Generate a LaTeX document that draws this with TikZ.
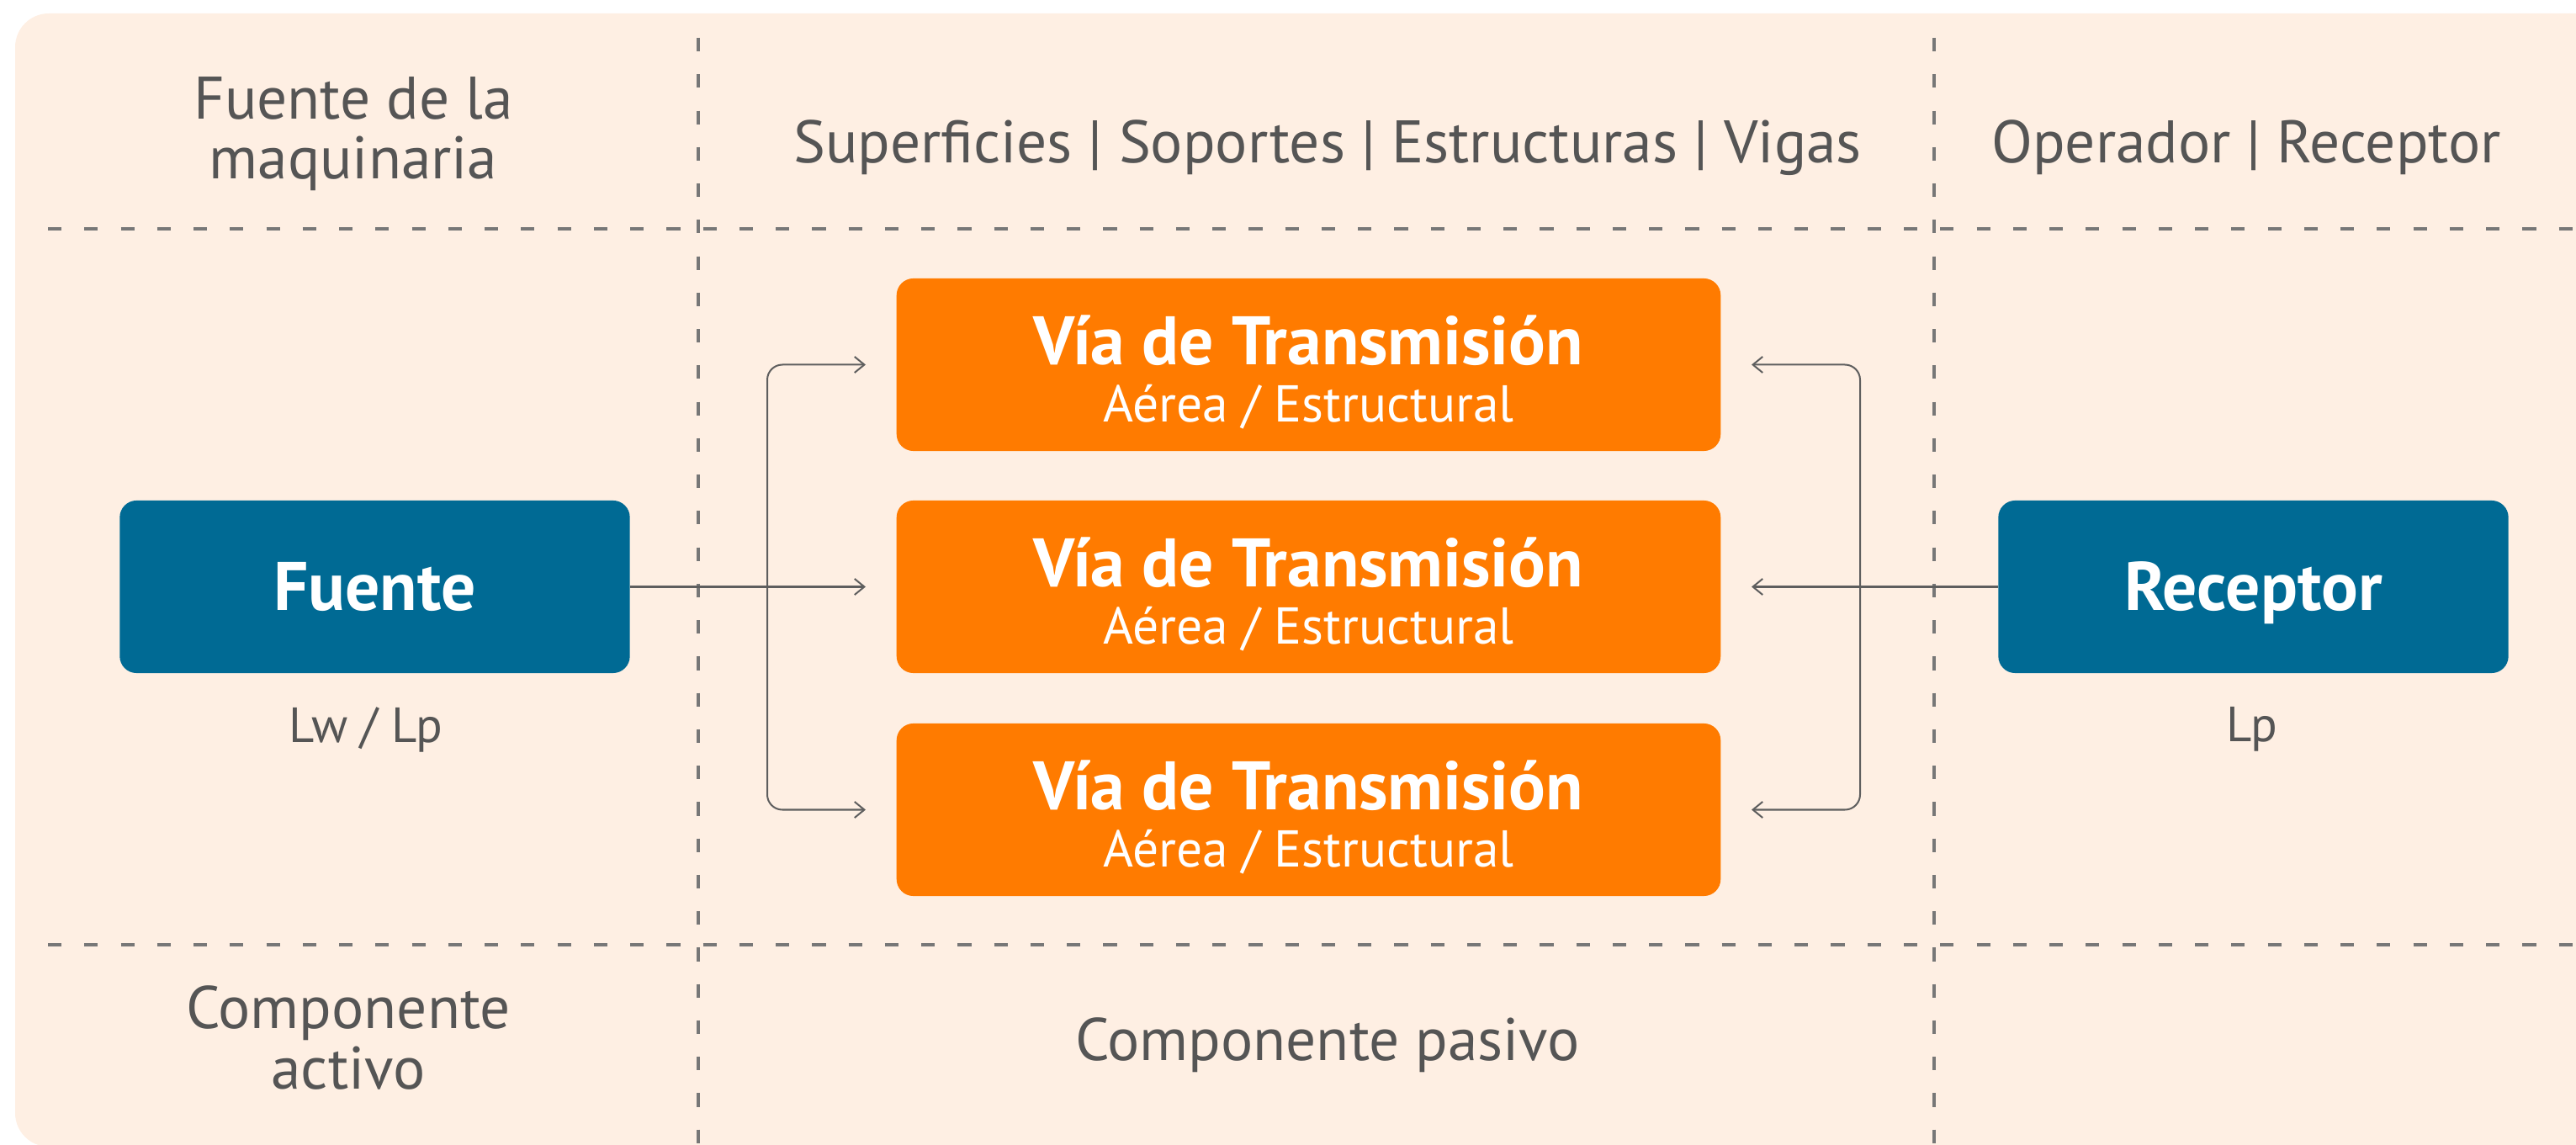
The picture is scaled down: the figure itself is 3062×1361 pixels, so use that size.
\documentclass[tikz,border=0pt]{standalone}
\usepackage{fontspec}
\setmainfont{PT Sans}
\usetikzlibrary{arrows.meta}

\definecolor{bgpeach}{HTML}{FEEFE3}
\definecolor{boxorange}{HTML}{FF7B00}
\definecolor{boxblue}{HTML}{006A94}
\definecolor{txtgray}{HTML}{555555}
\definecolor{linegray}{HTML}{5E5E5E}
\definecolor{dashgray}{HTML}{777777}

\begin{document}
\begin{tikzpicture}[x=0.01cm, y=-0.01cm]
    \useasboundingbox (0,0) rectangle (3062,1361);
    \fill[bgpeach, rounded corners=0.4cm] (18,16) rectangle (3120,1363);

    \begin{scope}[dashgray, line width=0.95pt, dash pattern=on 4.6pt off 7.7pt]
        \draw (57,272) -- (3062,272);
        \draw (57,1123) -- (3062,1123);
        \draw (830,45) -- (830,1361);
        \draw (2299,45) -- (2299,1361);
    \end{scope}

    \begin{scope}[every node/.style={text=txtgray, align=center, anchor=base, font=\fontsize{20.3}{20.2}\selectfont}]
        \node (hsrc) at (420,213) {Fuente de la\\maquinaria};
        \node (hpath) at (1578,194) {Superficies | Soportes | Estructuras | Vigas};
        \node (hrec) at (2670,194) {Operador | Receptor};
        \node (act) at (414,1294) {Componente\\activo};
        \node (pas) at (1578,1260) {Componente pasivo};
    \end{scope}

    \begin{scope}[every node/.style={text=white, rounded corners=0.2cm, minimum height=2.05cm, inner sep=0pt}]
        \node[fill=boxblue, minimum width=6.06cm, text height=16.2pt, text depth=0pt, font=\fontsize{23.2}{24}\selectfont\bfseries] (src) at (445.5,697.5) {Fuente};
        \node[fill=boxblue, minimum width=6.06cm, text height=16.2pt, text depth=0pt, font=\fontsize{23.2}{24}\selectfont\bfseries] (rec) at (2678.5,697.5) {Receptor};
    \end{scope}

    \begin{scope}[every node/.style={text=white, fill=boxorange, rounded corners=0.2cm, minimum width=9.79cm, minimum height=2.05cm, inner sep=0pt, align=center, text height=38.4pt, text depth=0pt, font=\fontsize{17.5}{19.06}\selectfont}]
        \node (v1) at (1555.5,433.5) {{\fontsize{23.2}{19.06}\selectfont\bfseries Vía de Transmisión}\\Aérea / Estructural};
        \node (v2) at (1555.5,697.5) {{\fontsize{23.2}{19.06}\selectfont\bfseries Vía de Transmisión}\\Aérea / Estructural};
        \node (v3) at (1555.5,962.5) {{\fontsize{23.2}{19.06}\selectfont\bfseries Vía de Transmisión}\\Aérea / Estructural};
    \end{scope}

    \begin{scope}[every node/.style={text=txtgray, anchor=base, font=\fontsize{16.7}{18}\selectfont}]
        \node (lwsrc) at (435,883) {Lw / Lp};
        \node (lprec) at (2677,882) {Lp};
    \end{scope}

    \coordinate (lbus) at (912,697.5);
    \coordinate (rbus) at (2211,697.5);

    \begin{scope}[linegray, line width=0.57pt, -{Straight Barb[length=3.3pt,width=5.4pt]}, shorten >=0.36cm, rounded corners=0.18cm]
        \draw (src) -- (v2);
        \draw (lbus) |- (v1);
        \draw (lbus) |- (v3);
        \draw (rec) -- (v2);
        \draw (rbus) |- (v1);
        \draw (rbus) |- (v3);
    \end{scope}
\end{tikzpicture}
\end{document}
